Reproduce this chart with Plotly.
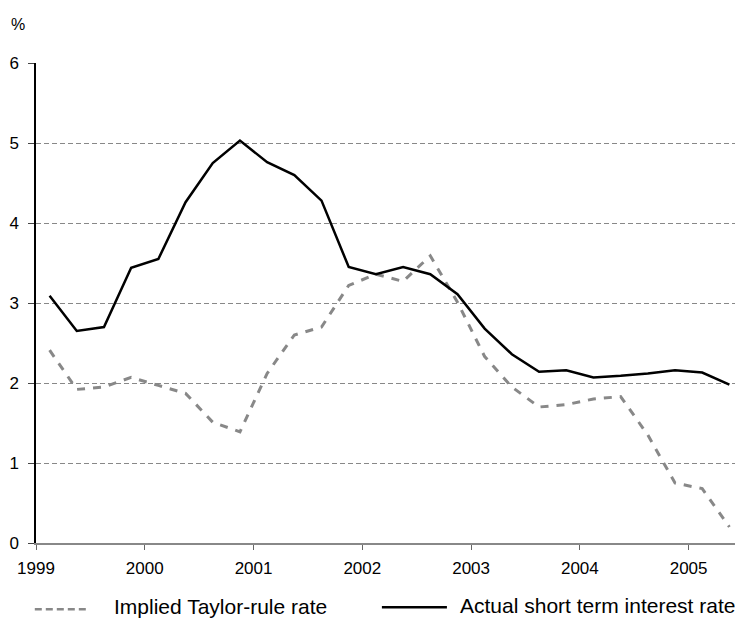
import plotly.graph_objects as go

# Quarterly data, 1999Q1 .. 2005Q2
quarters = ["1999Q1","1999Q2","1999Q3","1999Q4",
            "2000Q1","2000Q2","2000Q3","2000Q4",
            "2001Q1","2001Q2","2001Q3","2001Q4",
            "2002Q1","2002Q2","2002Q3","2002Q4",
            "2003Q1","2003Q2","2003Q3","2003Q4",
            "2004Q1","2004Q2","2004Q3","2004Q4",
            "2005Q1","2005Q2"]
taylor_rate = [2.41, 1.92, 1.95, 2.07, 1.97, 1.87, 1.51, 1.39,
               2.12, 2.60, 2.70, 3.22, 3.36, 3.27, 3.59, 3.01,
               2.33, 1.95, 1.70, 1.73, 1.80, 1.83, 1.35, 0.75,
               0.68, 0.20]
actual_rate = [3.09, 2.65, 2.70, 3.44, 3.55, 4.26, 4.75, 5.03,
               4.76, 4.60, 4.28, 3.45, 3.36, 3.45, 3.36, 3.11,
               2.68, 2.36, 2.14, 2.16, 2.07, 2.09, 2.12, 2.16,
               2.13, 1.98]
year_ticks = [1999, 2000, 2001, 2002, 2003, 2004, 2005]
y_ticks = [0, 1, 2, 3, 4, 5, 6]
series_names = ["Implied Taylor-rule rate", "Actual short term interest rate"]

# mid-quarter position on a decimal-year axis
x_vals = [int(q[:4]) + (int(q[-1]) - 0.5) / 4 for q in quarters]

# page body has an 8px margin; size the figure so it fills the window exactly
OFF = 8
W, H = 743 - OFF, 619 - OFF
ML, MR, MT, MB = 28.2, 0, 54.7, 76.3
FONT = "Liberation Sans, Arial, sans-serif"

fig = go.Figure()
fig.add_trace(go.Scatter(x=x_vals, y=taylor_rate, mode="lines", name=series_names[0],
                         line=dict(color="#888888", width=3, dash="8px,8px"),
                         showlegend=False))
fig.add_trace(go.Scatter(x=x_vals, y=actual_rate, mode="lines", name=series_names[1],
                         line=dict(color="#000000", width=2.5),
                         showlegend=False))

pw = W - ML - MR
ph = H - MT - MB
def px(x):  # window pixel -> paper fraction
    return (x - OFF - ML) / pw
def py(y):
    return (H - MB - (y - OFF)) / ph

# Legend drawn manually (long line samples as in reference)
shapes = [
    dict(type="line", xref="paper", yref="paper", x0=px(35), x1=px(90), y0=py(609), y1=py(609),
         line=dict(color="#888888", width=2.5, dash="7px,4px")),
    dict(type="line", xref="paper", yref="paper", x0=px(382), x1=px(447), y0=py(607), y1=py(607),
         line=dict(color="#000000", width=2.5)),
]
annotations = [
    dict(text=series_names[0], xref="paper", yref="paper", x=px(113), y=py(619),
         xanchor="left", yanchor="bottom", showarrow=False, borderpad=0,
         font=dict(family=FONT, size=21, color="#000")),
    dict(text=series_names[1], xref="paper", yref="paper", x=px(459), y=py(618),
         xanchor="left", yanchor="bottom", showarrow=False, borderpad=0,
         font=dict(family=FONT, size=21, color="#000")),
    dict(text="%", xref="paper", yref="paper", x=px(9), y=py(24),
         xanchor="left", yanchor="middle", showarrow=False,
         font=dict(family=FONT, size=16, color="#000")),
]

fig.update_layout(
    width=W, height=H,
    margin=dict(l=ML, r=MR, t=MT, b=MB, autoexpand=False),
    plot_bgcolor="white", paper_bgcolor="white",
    font=dict(family=FONT, size=17, color="#000"),
    shapes=shapes, annotations=annotations,
    showlegend=False,
    xaxis=dict(range=[1999, 2005.5], tickvals=year_ticks, ticktext=[str(y) for y in year_ticks],
               showgrid=False, zeroline=False, showline=True, linecolor="#888888", linewidth=1.5,
               ticks="outside", ticklen=5, tickcolor="#666666", tickwidth=1.2,
               tickfont=dict(size=17), ticklabelstandoff=4, automargin=False),
    yaxis=dict(range=[0, 6], tickvals=y_ticks, showgrid=True, gridcolor="#888888", gridwidth=1,
               griddash="5px,3px", zeroline=False, showline=True, linecolor="#000", linewidth=1.5,
               ticks="outside", ticklen=6, tickcolor="#444444", tickwidth=1.2,
               tickfont=dict(size=17), ticklabelstandoff=6, automargin=False),
)

fig.write_html("out.html")
